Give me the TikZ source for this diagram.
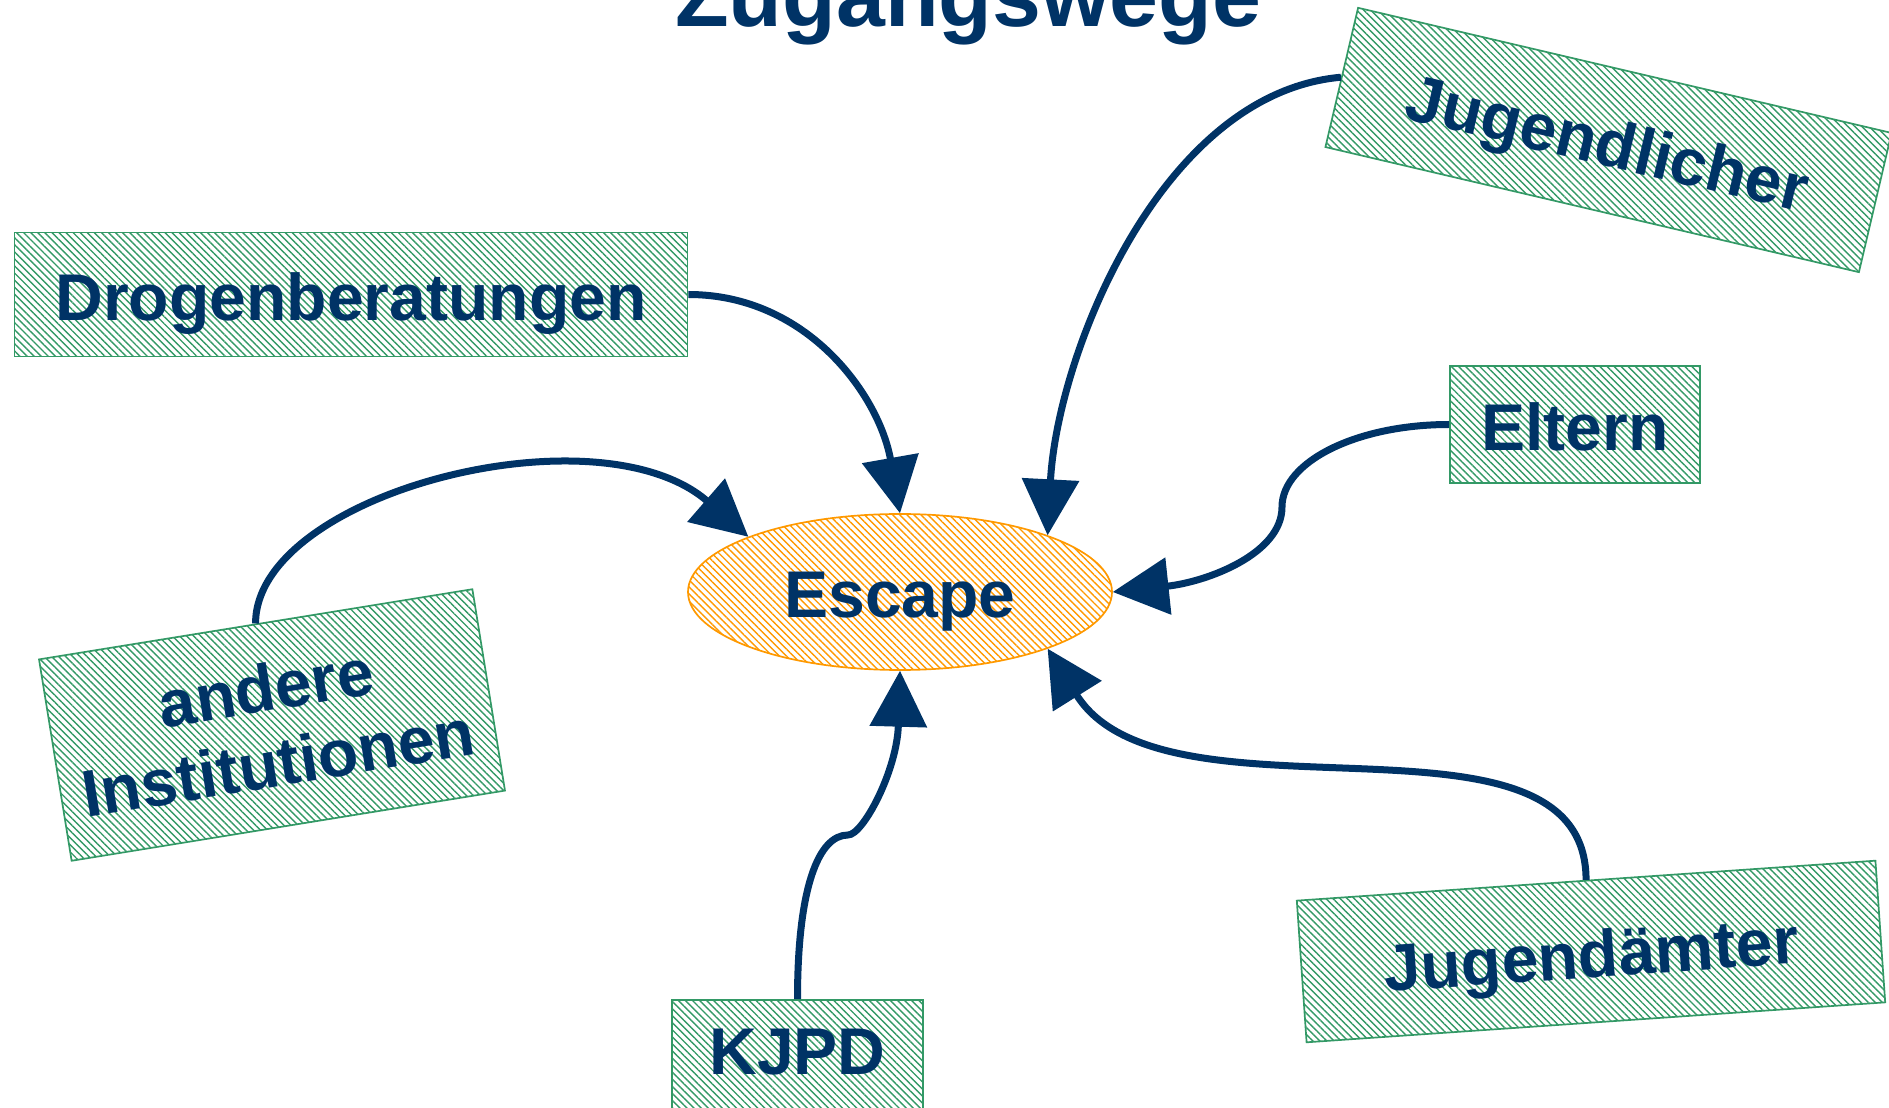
\documentclass[tikz,border=0pt]{standalone}
\usepackage{fontspec}
\setmainfont{Liberation Sans}
\usetikzlibrary{arrows.meta,patterns.meta,shapes.geometric}
\definecolor{darkblue}{RGB}{0,51,102}
\definecolor{boxgreen}{RGB}{51,153,102}
\definecolor{hatchorange}{RGB}{255,153,0}

\begin{document}
\begin{tikzpicture}[x=0.1mm, y=0.1mm,
  wegbox/.style={draw=boxgreen, line width=0.17mm, inner sep=0pt,
    pattern={Lines[angle=-45, distance=0.5mm, line width=0.14mm]}, pattern color=boxgreen,
    text=darkblue, font=\fontsize{18.8}{21.6}\selectfont\bfseries},
  zeile/.style={text height=6.4mm, text depth=1.2mm},
  zugang/.style={draw=darkblue, line width=0.7mm, -{Triangle[length=5.6mm, width=5.6mm]}}]
  \useasboundingbox (0,0) rectangle (1889,1107);

  % Title
  \node[anchor=base, text=darkblue, font=\fontsize{25}{30}\selectfont\bfseries] (titel) at (968,1080) {Zugangswege};

  % Center
  \node[ellipse, draw=hatchorange, line width=0.17mm, inner sep=0pt, zeile,
    pattern={Lines[angle=-45, distance=0.5mm, line width=0.14mm]}, pattern color=hatchorange,
    minimum width=42.4mm, minimum height=15.6mm,
    text=darkblue, font=\fontsize{18.8}{21.6}\selectfont\bfseries] (escape) at (900,515) {Escape};

  % Access routes
  \node[wegbox, zeile, minimum width=67.3mm, minimum height=12.4mm] (drogen) at (351,812.5) {Drogenberatungen};
  \node[wegbox, zeile, minimum width=54.8mm, minimum height=14.3mm, rotate=-13.2] (jugendlicher) at (1608.5,967) {Jugendlicher};
  \node[wegbox, zeile, minimum width=25mm, minimum height=11.7mm] (eltern) at (1575,682.5) {Eltern};
  \node[wegbox, align=center, minimum width=43.9mm, minimum height=20.4mm, rotate=9.2] (andere) at (272,382) {andere\\Institutionen};
  \node[wegbox, zeile, minimum width=58mm, minimum height=14.2mm, rotate=3.95] (jugendaemter) at (1591,155.5) {Jugendämter};
  \node[wegbox, anchor=base, text height=5.4mm, text depth=6mm, inner ysep=2mm, minimum width=25.1mm] (kjpd) at (797.5,33) {KJPD};

  % Connectors
  \coordinate (elternknick) at (1282,600);
  \coordinate (kjpdknick) at (848,272);
  \draw[zugang] (drogen.east) to[out=0, in=100] (escape.north);
  \draw[zugang] (jugendlicher.west) to[out=185, in=87, looseness=0.85] (escape.21);
  \draw[zugang] (eltern.west) .. controls +(-93,0) and +(0,45) .. (elternknick)
    .. controls +(0,-47) and +(94,10) .. (escape.east);
  \draw[zugang] (andere.north) .. controls +(0,130) and +(-151,131) .. (escape.160);
  \draw[zugang] (kjpd.north) .. controls +(0,110) and +(-30,0) .. (kjpdknick)
    .. controls +(15,0) and +(-3,-100) .. (escape.south);
  \draw[zugang] (jugendaemter.north) .. controls +(0,190) and +(117,-187) .. (escape.-21);
\end{tikzpicture}
\end{document}
